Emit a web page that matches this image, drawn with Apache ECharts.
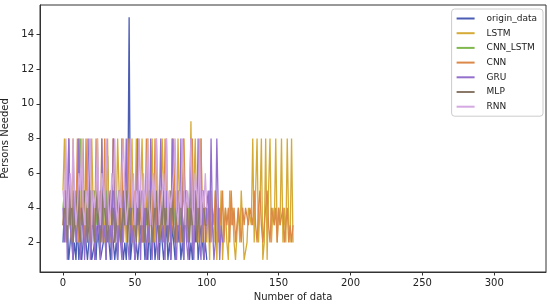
<!DOCTYPE html>
<html>
<head>
<meta charset="utf-8">
<script src="https://cdn.jsdelivr.net/npm/echarts@6/dist/echarts.min.js"></script>
<style>
  html, body { margin: 0; padding: 0; background: #fff; }
  #chart { width: 550px; height: 305px; }
</style>
</head>
<body>
<div id="chart"></div>
<script>
// values, index = position on the x axis
var originData = [2,4,5,3,1,2,3,1,2,1,3,1,2,1,1,3,2,1,2,3,1,1,2,1,3,2,1,1,2,3,1,7,2,1,3,2,1,2,1,3,4,2,1,2,1,3,15,1,2,3,1,2,1,1,3,2,3,1,2,1,3,1,2,3,1,2,4,1,3,2,1,2,3,1,2,1,3,2,1,4,2,3,1,2,1,5,2,3,1,2,1,3,2,4,1,2,3,2,1,2,1]
var lstmData = [5,8,3,2,8,4,2,8,3,5, 2,8,4,3,8,2,5,8,3,2, 8,4,2,5,8,3,2,8,4,2, 5,8,3,2,4,8,2,3,8,5,
  2,8,3,4,2,8,3,5,8,2, 3,8,4,2,5,8,3,2,4,8, 2,5,8,3,2,8,4,2,3,8, 5,2,8,3,4,2,8,3,5,2,
  8,4,2,3,8,5,2,4,3,9, 2,5,8,3,2,4,8,2,5,3, 2,4,1,5,3,2,5,1,4,2, 5,1,3,4,2,1,5,3,4,2,
  1,1,4,2,5,3,1,1,2,4, 4,3,8,2,5,8,2,4,8,1, 2,8,1,5,8,2,4,3,8,2, 4,3,8,2,4,2,8,3,2,8, 2]
var cnnLstmData = [4,5,3,4,5,3,4,3,5,4, 3,5,8,4,3,5,4,3,4,5, 3,4,5,3,4,3,5,4,3,4, 5,3,4,5,3,4,3,5,4,3,
  4,5,3,4,3,5,4,3,4,5, 3,4,3,5,4,3,4,5,3,4, 5,3,4,3,5,4,3,4,5,3, 4,3,5,4,3,4,5,3,4,3,
  5,4,3,4,5,3,4,3,5,4, 3,4,5,3,4,3,5,4,3,4, 4]
var cnnData = [3,5,2,4,8,3,2,5,4,3, 8,2,4,3,5,2,8,3,4,2, 5,3,2,8,4,3,5,2,3,8, 2,4,3,5,2,8,3,4,2,5,
  3,8,2,4,3,5,8,3,2,4, 5,2,8,3,4,2,5,3,8,2, 4,3,5,2,8,3,4,2,5,3, 2,8,4,3,5,2,3,8,4,2,
  5,3,2,4,8,3,5,2,4,3, 8,2,5,3,4,2,8,3,5,2, 4,3,5,2,4,3,5,4,2,4, 3,5,2,4,3,4,2,5,3,4,
  2,3,4,3,2,4,3,4,4,3, 4,4,3,5,3,2,4,5,3,2, 3,4,5,3,2,4,4,3,4,2, 4,3,3,4,2,3,4,2,3,2, 3]
var gruData = [4,2,5,1,8,3,2,1,5,2, 3,8,1,2,4,1,3,2,8,1, 2,5,1,3,2,4,1,8,2,3, 1,5,2,3,1,8,2,4,1,3,
  2,1,5,3,8,2,1,4,2,3, 1,2,8,3,1,5,2,4,1,3, 2,8,1,3,5,2,1,4,8,2, 3,1,5,2,4,1,8,3,2,1,
  4,2,8,3,1,5,2,1,3,8, 2,1,4,3,8,2,1,5,1,2, 4,5,2,8,3,1,2,8,4,1,3,2]
var mlpData = [3,4,5,2,4,3,5,2,3,4, 5,3,2,4,3,5,4,2,3,5, 4,3,2,5,3,4,2,3,5,4, 3,2,4,5,3,4,2,3,4,5,
  2,3,4,3,5,2,4,3,5,4, 3,2,4,3,5,4,3,2,4,3, 5,4,2,3,4,5,3,2,4,3, 5,3,4,2,3,5,4,3,2,4,
  3,5,4,2,3,4,5,3,2,4, 3,4,5,2,3,4,3,5,4,3, 3]
var rnnData = [5,4,8,3,5,6,4,8,5,3, 4,6,5,8,4,3,5,4,6,8, 3,5,4,5,8,4,3,6,5,4, 8,5,3,4,6,5,8,4,3,5,
  4,6,8,5,3,4,5,8,4,6, 3,5,4,8,5,3,6,4,5,8, 4,3,5,6,4,8,5,3,4,5, 6,4,8,3,5,4,5,6,8,4,
  3,5,4,8,6,3,5,4,5,8, 4,3,6,5,4,8,3,5,4,6, 4]

var seriesNames = ['origin_data', 'LSTM', 'CNN_LSTM', 'CNN', 'GRU', 'MLP', 'RNN']
var seriesValues = [originData, lstmData, cnnLstmData, cnnData, gruData, mlpData, rnnData]
var seriesColors = ['#4a5cb4', '#d6aa36', '#80b850', '#dc8848', '#9470cc', '#8a7868', '#d4a8e0']
var xTicks = [0, 50, 100, 150, 200, 250, 300]
var yTicks = [2, 4, 6, 8, 10, 12, 14]

var chart = echarts.init(document.getElementById('chart'), null, {renderer: 'canvas'})
var font = 'DejaVu Sans'

var series = seriesNames.map(function (name, k) {
  return {
    name: name,
    type: 'line',
    showSymbol: false,
    animation: false,
    color: seriesColors[k],
    lineStyle: {width: 1.3, color: seriesColors[k]},
    data: seriesValues[k].map(function (v, i) { return [i, v] })
  }
})

chart.setOption({
  backgroundColor: '#fff',
  animation: false,
  textStyle: {fontFamily: font},
  grid: {
    left: 40,
    right: 4,
    top: 5,
    bottom: 33,
    outerBoundsMode: 'none',
    containLabel: false,
    show: true,
    borderColor: '#333',
    borderWidth: 1
  },
  legend: {
    orient: 'vertical',
    right: 7,
    top: 9,
    padding: [4, 6, 4, 5],
    itemGap: 3.7,
    itemWidth: 18,
    itemHeight: 2,
    icon: 'rect',
    borderColor: '#ccc',
    borderWidth: 1,
    borderRadius: 3,
    textStyle: {fontSize: 9, lineHeight: 11, color: '#222', fontFamily: font, padding: [0, 0, 0, 7]},
    data: seriesNames
  },
  xAxis: {
    type: 'value',
    min: -16,
    max: 336,
    name: 'Number of data',
    nameLocation: 'middle',
    nameGap: 19,
    nameTextStyle: {fontSize: 10, color: '#222', fontFamily: font},
    splitLine: {show: false},
    axisLine: {show: true, onZero: false, lineStyle: {color: '#333'}},
    axisTick: {show: true, length: 3.5, customValues: xTicks, lineStyle: {color: '#333'}},
    axisLabel: {fontSize: 10, color: '#222', margin: 6, customValues: xTicks}
  },
  yAxis: {
    type: 'value',
    min: 0.3,
    max: 15.7,
    name: 'Persons Needed',
    nameLocation: 'middle',
    nameGap: 24,
    nameTextStyle: {fontSize: 10, color: '#222', fontFamily: font},
    splitLine: {show: false},
    axisLine: {show: true, onZero: false, lineStyle: {color: '#333'}},
    axisTick: {show: true, length: 3.5, customValues: yTicks, lineStyle: {color: '#333'}},
    axisLabel: {fontSize: 10, color: '#222', margin: 6, customValues: yTicks}
  },
  series: series
})
</script>
</body>
</html>
